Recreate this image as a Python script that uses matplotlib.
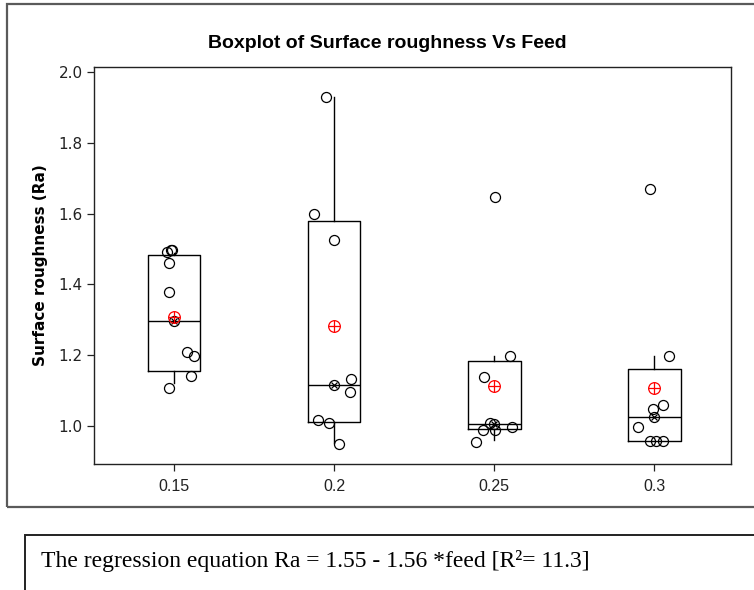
import numpy as np
import matplotlib
matplotlib.use('Agg')
import matplotlib.pyplot as plt
from matplotlib.patches import Rectangle

# feed levels (categories)
feeds = ['0.15', '0.2', '0.25', '0.3']

# box stats
q1 = [1.154, 1.012, 0.991, 0.958]
med = [1.296, 1.116, 1.004, 1.025]
q3 = [1.484, 1.580, 1.183, 1.160]
whislo = [1.120, 0.950, 0.960, 0.958]
whishi = [1.490, 1.931, 1.198, 1.198]
means = [1.307, 1.282, 1.114, 1.107]

# individual (jittered) observations: x jitter and value
jit_015 = [-0.046, -0.021, -0.011, -0.031, -0.031, 0.083, 0.125, 0.106, -0.031]
ra_015 = [1.492, 1.498, 1.497, 1.460, 1.378, 1.208, 1.197, 1.140, 1.107]
jit_020 = [-0.050, -0.123, 0.002, 0.106, 0.100, -0.098, -0.031, 0.033]
ra_020 = [1.929, 1.599, 1.526, 1.131, 1.097, 1.017, 1.009, 0.949]
jit_025 = [0.006, 0.096, -0.061, -0.067, 0.008, 0.114, -0.114, -0.025]
ra_025 = [1.647, 1.197, 1.137, 0.987, 0.987, 0.998, 0.955, 1.008]
jit_030 = [-0.025, 0.090, 0.058, -0.008, -0.098, -0.029, 0.012, 0.054]
ra_030 = [1.669, 1.197, 1.058, 1.048, 0.998, 0.957, 0.957, 0.957]

jits = [jit_015, jit_020, jit_025, jit_030]
vals = [ra_015, ra_020, ra_025, ra_030]
pos = np.arange(1, len(feeds) + 1)

fig = plt.figure(figsize=(7.54, 5.90), dpi=100)
ax = fig.add_axes([0.1247, 0.2136, 0.9695 - 0.1247, 0.887 - 0.2136])

stats = []
for i in range(len(feeds)):
    stats.append({'q1': q1[i], 'med': med[i], 'q3': q3[i],
                  'whislo': whislo[i], 'whishi': whishi[i], 'fliers': []})

ax.bxp(stats, positions=pos, widths=0.33, showcaps=False, showfliers=False,
       boxprops=dict(color='black', linewidth=1.0),
       whiskerprops=dict(color='black', linewidth=1.0),
       medianprops=dict(color='black', linewidth=1.0))

for i in range(len(feeds)):
    ax.plot(pos[i] + np.array(jits[i]), vals[i], 'o', ms=7.2, mfc='none',
            mec='black', mew=0.9, zorder=3)
    # median symbol
    ax.plot(pos[i], med[i], 'o', ms=7.2, mfc='none', mec='black', mew=0.9, zorder=4)
    ax.plot(pos[i], med[i], 'x', ms=5.0, color='black', mew=0.9, zorder=4)
    # mean symbol
    ax.plot(pos[i], means[i], 'o', ms=8.4, mfc='none', mec='red', mew=0.9, zorder=5)
    ax.plot(pos[i], means[i], '+', ms=8.4, color='red', mew=0.9, zorder=5)

ax.set_xlim(0.5, 4.48)
ax.set_ylim(0.892, 2.016)
ax.set_xticks(pos)
ax.set_xticklabels(feeds, fontfamily='Liberation Sans', fontsize=11.5)
ax.set_yticks([1.0, 1.2, 1.4, 1.6, 1.8, 2.0])
ax.set_yticklabels(['1.0', '1.2', '1.4', '1.6', '1.8', '2.0'], fontsize=11)
ax.tick_params(direction='out', length=5, width=0.9, pad=3, colors='#222222')
ax.tick_params(axis='x', pad=6)
for s in ax.spines.values():
    s.set_linewidth(1.0)
    s.set_color('#222222')

ax.set_ylabel('Surface roughness (Ra)', fontsize=11, fontweight='bold', labelpad=8)
fig.text(0.514, 0.927, 'Boxplot of Surface roughness Vs Feed', ha='center', va='center',
         fontsize=14, fontweight='bold', fontfamily='Liberation Sans')

# outer frame around the chart
fig.patches.append(Rectangle((7 / 754, 1 - 507 / 590), 800 / 754, 503 / 590,
                             transform=fig.transFigure, fill=False,
                             edgecolor='#5a5a5a', linewidth=1.6))
# regression equation box
fig.patches.append(Rectangle((25 / 754, -0.1), 800 / 754, 0.1 + 1 - 535 / 590,
                             transform=fig.transFigure, fill=False,
                             edgecolor='#222222', linewidth=1.4))
fig.text(41 / 754, 1 - 561 / 590, 'The regression equation Ra = 1.55 - 1.56 *feed [R\u00b2= 11.3]',
         ha='left', va='center', fontsize=17, fontfamily='Liberation Serif')

fig.savefig('out.png', dpi=100)
